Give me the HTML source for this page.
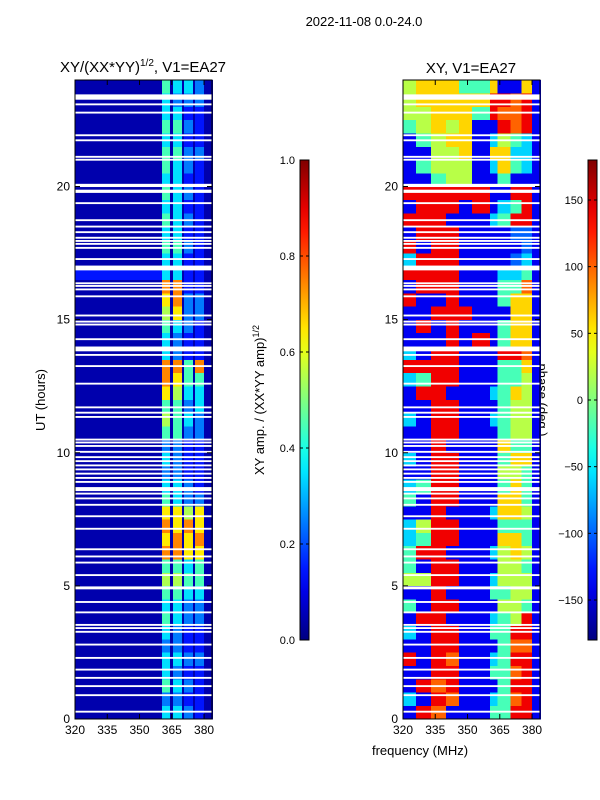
<!DOCTYPE html>
<html><head><meta charset="utf-8"><style>
body{margin:0;background:#fff;}
svg{display:block;font-family:"Liberation Sans",sans-serif;}
</style></head><body>
<svg id="fig" width="600" height="800" viewBox="0 0 600 800">
<text x="364" y="26" font-size="13" text-anchor="middle">2022-11-08 0.0-24.0</text>
<text x="143" y="72" font-size="15" text-anchor="middle">XY/(XX*YY)<tspan font-size="10" dy="-6">1/2</tspan><tspan dy="6">, V1=EA27</tspan></text>
<text x="471" y="73" font-size="15" text-anchor="middle">XY, V1=EA27</text>
<text transform="translate(45,400) rotate(-90)" font-size="13" text-anchor="middle">UT (hours)</text>
<text x="420" y="755" font-size="13" text-anchor="middle">frequency (MHz)</text>
<text transform="translate(264,400) rotate(-90)" font-size="13" text-anchor="middle">XY amp. / (XX*YY amp)<tspan font-size="9" dy="-5">1/2</tspan></text>
<text transform="translate(538,400) rotate(90)" font-size="13" text-anchor="middle">phase (deg.)</text>
<g id="left"></g>
<g id="right"></g>
<g id="axes"></g>
</svg>
<script>
const ampCols=[320,340,360.5,364.2,365.6,369.8,370.7,374.9,375.8,380,384];
const ampRows=["1141413121","1131312121","1151413121","1141312121","1141413131","1131312121","1141312121","1151413131","1141413131","1151514141","1161615151","1151514151","1181817171","1171817181","1181718171","1171716171","1151413131","1141413121","1131312121","1141312121","1131312121","1151513131","1161514131","1151513141","1171614141","1181715151","1181815181","1141312121","1141312121","1151413121","1161713131","1171813131","1181812121","2241412121","1141412121","1151513121","1141412121","1151413121","1141412121","1151413121","1141412121","1151413121","1151513131","1141412121","1151513121","1141412121","1141313131","1151414131"];
const phCols=[320,326,333,340,346,352,360.5,364,370,375,380,384];
const phRows=["18711144881","31871134781","18781114881","11881144781","81871134881","11881114771","31881144881","18811134581","41881115541","11811144551","55881135551","41881115541","48811135651","34881116641","35881114441","11811136651","41881116641","34881114641","11881115541","31881114661","11811116441","11881114551","31881134551","11881114551","18811134651","34881114451","88881114461","31881118871","11181814661","18181114661","11888111661","81181114661","18881114471","88881113341","38881111231","81881111121","18881111221","88811134881","18881813481","88888811881","11455114111","14555136431","11556166331","14566135431","45656118781","55666487781","56666688781","56664461161"];
const gapStarts=[23.26,19.76,19.98,16.85,13.81,8.56,4.87,23.05,22.74,21.89,21.70,21.08,20.97,19.34,18.70,18.46,18.25,18.04,17.92,17.81,17.66,17.24,16.33,16.23,16.10,15.84,15.12,14.89,14.78,14.23,13.64,13.22,12.56,11.67,11.47,11.31,10.46,10.35,10.22,10.00,9.80,9.65,9.49,9.34,9.18,9.02,8.87,8.43,8.25,8.01,7.58,7.11,6.34,6.07,5.84,5.37,4.36,3.97,3.50,3.38,3.24,2.76,2.26,1.82,1.51,1.20,0.86,0.24];
const gapDurs=[0.2,0.12,0.12,0.18,0.18,0.15,0.11];
const yTicks=[0,5,10,15,20];
const xTicks=[320,335,350,365,380];
const ampTicks=[0.0,0.2,0.4,0.6,0.8,1.0];
const phTicks=[-150,-100,-50,0,50,100,150];

const NS="http://www.w3.org/2000/svg";
const T0=80,T1=719;
const yS=t=>T1-t*(T1-T0)/24;
function xSL(f){return 75+(f-320)*(212-75)/(383.7-320);}
function xSR(f){return 403+(f-320)*(540-403)/(383.7-320);}
function jet(v){v=Math.max(0,Math.min(1,v));
 const c=x=>Math.round(255*Math.max(0,Math.min(1,x)));
 const r=c(Math.min(4*v-1.5,-4*v+4.5)),g=c(Math.min(4*v-0.5,-4*v+3.5)),b=c(Math.min(4*v+0.5,-4*v+2.5));
 return `rgb(${r},${g},${b})`;}
function mk(tag,attrs,parent){const e=document.createElementNS(NS,tag);for(const k in attrs)e.setAttribute(k,attrs[k]);parent.appendChild(e);return e;}
const L=document.getElementById('left'),R=document.getElementById('right'),A=document.getElementById('axes');
const svg=document.getElementById('fig');

function drawGrid(g,rows,cols,xs,valf,nm){
 rows.forEach((row,i)=>{
  const y0=yS((i+1)*0.5),y1=yS(i*0.5);
  for(let j=0;j<cols.length-1;j++){
   const x0=xs(cols[j]),x1=xs(cols[j+1]);
   const r=mk('rect',{x:x0,y:y0,width:x1-x0+0.3,height:y1-y0+0.3,fill:jet(valf(+row[j])),'shape-rendering':'crispEdges'},g);
   
   
  }
 });
}
drawGrid(L,ampRows,ampCols,xSL,d=>(d-1)/10+0.045,'amp-cell');
drawGrid(R,phRows,phCols,xSR,d=>d/9,'phase-cell');

[[L,75,212],[R,403,540]].forEach(([g,x0,x1])=>{
 gapStarts.forEach((t,i)=>{
  const d=i<gapDurs.length?gapDurs[i]:0.07;
  const r=mk('rect',{x:x0,y:yS(t+d),width:x1-x0,height:Math.max(1.5,yS(t)-yS(t+d)),fill:'#fff'},g);
  
  
 });
});

[[75,212,xSL],[403,540,xSR]].forEach(([x0,x1,xs])=>{
 const f=mk('rect',{x:x0,y:T0,width:x1-x0,height:T1-T0,fill:'none',stroke:'#000','stroke-width':1},A);
 
 
 yTicks.forEach(t=>{
  const y=yS(t);
  mk('line',{x1:x0,y1:y,x2:x0+5,y2:y,stroke:'#000'},A);
  mk('line',{x1:x1,y1:y,x2:x1-5,y2:y,stroke:'#000'},A);
  const tx=mk('text',{x:x0-5,y:y+4,'font-size':12,'text-anchor':'end'},A);
  tx.textContent=t;
  
  
 });
 xTicks.forEach(v=>{
  const x=xs(v);
  mk('line',{x1:x,y1:T1,x2:x,y2:T1-5,stroke:'#000'},A);
  mk('line',{x1:x,y1:T0,x2:x,y2:T0+5,stroke:'#000'},A);
  const tx=mk('text',{x:x,y:T1+15,'font-size':12,'text-anchor':'middle'},A);
  tx.textContent=v;
  
  
 });
});

function colorbar(x,id,ticks,vmin,vmax,fmt,nm){
 const defs=mk('defs',{},svg);
 const lg=mk('linearGradient',{id:id,x1:0,y1:1,x2:0,y2:0},defs);
 for(let k=0;k<=20;k++){mk('stop',{offset:k/20,'stop-color':jet(k/20)},lg);}
 const r=mk('rect',{x:x,y:160,width:9,height:480,fill:`url(#${id})`,stroke:'#000','stroke-width':1},A);
 
 
 ticks.forEach(v=>{
  const y=640-(v-vmin)/(vmax-vmin)*480;
  mk('line',{x1:x,y1:y,x2:x+3,y2:y,stroke:'#000'},A);
  mk('line',{x1:x+9,y1:y,x2:x+6,y2:y,stroke:'#000'},A);
  const tx=mk('text',{x:x-5,y:y+4,'font-size':11,'text-anchor':'end'},A);
  tx.textContent=fmt(v);
  
  
 });
}
colorbar(300,'gA',ampTicks,0,1,v=>v.toFixed(1),'amp-colorbar');
colorbar(588,'gP',phTicks,-180,180,v=>String(v).replace('-','\u2212'),'phase-colorbar');
</script>
</body></html>
